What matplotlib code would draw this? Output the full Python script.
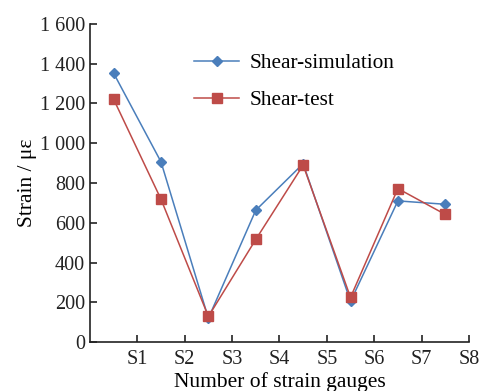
import numpy as np
import matplotlib.pyplot as plt
from matplotlib.ticker import FuncFormatter

plt.rcParams['font.family'] = ['Liberation Serif', 'DejaVu Serif']

gauges = ['S1', 'S2', 'S3', 'S4', 'S5', 'S6', 'S7', 'S8']
sim = [1352, 906, 120, 663, 897, 205, 710, 693]
test = [1221, 718, 129, 516, 890, 225, 772, 642]

x = np.arange(len(gauges)) + 0.5

fig = plt.figure(figsize=(4.81, 3.91), dpi=100)
ax = fig.add_axes([0.187, 0.125, 0.788, 0.814])

ax.plot(x, sim, color='#4A7EBB', marker='D', ms=5.5, lw=1.1, label='Shear-simulation')
ax.plot(x, test, color='#BE4B48', marker='s', ms=7, lw=1.1, label='Shear-test')

ax.set_xlim(0, 8)
ax.set_ylim(0, 1600)
ax.set_xticks(np.arange(1, 9))
ax.set_xticklabels(gauges)
ax.set_yticks(np.arange(0, 1601, 200))
ax.yaxis.set_major_formatter(FuncFormatter(lambda v, p: f'{int(v):,}'.replace(',', ' ')))

for s in ['top', 'right']:
    ax.spines[s].set_visible(False)
for s in ['left', 'bottom']:
    ax.spines[s].set_linewidth(1.2)
    ax.spines[s].set_color('#222222')
ax.tick_params(direction='in', length=5, width=1.2, labelsize=14.5, colors='#222222')
ax.tick_params(axis='x', pad=6)

ax.set_xlabel('Number of strain gauges', fontsize=15.5, labelpad=2)
ax.set_ylabel('Strain / με', fontsize=15.5, labelpad=2)

ax.legend(loc='upper left', bbox_to_anchor=(0.225, 0.967), frameon=False, fontsize=15.3,
          handlelength=2.1, labelspacing=0.8, handletextpad=0.5)

fig.savefig('out.png', dpi=100)
